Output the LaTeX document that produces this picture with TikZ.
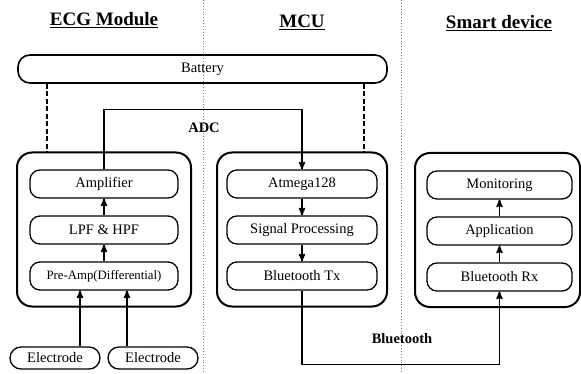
\documentclass[tikz,border=0pt]{standalone}
\usepackage{fontspec}
\setmainfont{Liberation Serif}
\usetikzlibrary{arrows,positioning}

\begin{document}
\begin{tikzpicture}[x=1pt,y=-1pt,>=stealth',node distance=46pt,on grid,
  every node/.style={font=\fontsize{14.5}{16}\selectfont},
  head/.style={font=\fontsize{19}{22}\selectfont\bfseries},
  tag/.style={font=\fontsize{14.5}{16}\selectfont\bfseries},
  block/.style={draw,line width=1.3pt,rounded corners=10pt,minimum width=148pt,minimum height=28pt,inner sep=0pt},
  unit/.style={draw,line width=2pt,rounded corners=15pt,minimum height=154pt,inner sep=0pt},
  pill/.style={draw,line width=1.3pt,rounded corners=11pt,minimum width=90pt,minimum height=22pt,inner sep=0pt},
  sig/.style={->,line width=1.6pt},
  pwr/.style={line width=1.6pt,dash pattern=on 5pt off 2.5pt},
  sep/.style={gray,line width=0.9pt,dotted}]
  \useasboundingbox (0,0) rectangle (581,374);

  \draw[sep] (203,0) -- (203,374);
  \draw[sep] (401,0) -- (401,374);

  \node[head] (ecgtitle) at (104,20) {\underline{ECG Module}};
  \node[head] (mcutitle) at (302,22) {\underline{MCU}};
  \node[head] (smarttitle) at (499,23) {\underline{Smart device}};

  \node[draw,line width=1.6pt,rounded corners=12pt,minimum width=369pt,minimum height=28pt,inner sep=0pt] (bat) at (202.5,69) {Battery};

  \node[unit,minimum width=174pt] (ecg) at (104,229.5) {};
  \node[unit,minimum width=170pt] (mcu) at (302,229.5) {};
  \node[unit,minimum width=165pt] (smart) at (497.5,230) {};

  \node[block] (amp) at (104,184) {Amplifier};
  \node[block,below=of amp] (lpf) {LPF \& HPF};
  \node[block,below=of lpf,font=\fontsize{12.8}{15}\selectfont] (pre) {Pre-Amp(Differential)};

  \node[block,minimum width=150pt] (atm) at (302,184) {Atmega128};
  \node[block,minimum width=150pt,below=of atm] (proc) {Signal Processing};
  \node[block,minimum width=150pt,below=of proc] (btx) {Bluetooth Tx};

  \node[block,minimum width=145pt] (mon) at (499.5,185) {Monitoring};
  \node[block,minimum width=145pt,below=of mon] (app) {Application};
  \node[block,minimum width=145pt,below=of app] (brx) {Bluetooth Rx};

  \node[pill] (el1) at (55,358) {Electrode};
  \node[pill] (el2) at (153,358) {Electrode};

  \coordinate (dl) at (47,0);
  \coordinate (dr) at (364,0);
  \draw[pwr] (bat.south -| dl) -- (ecg.north -| dl);
  \draw[pwr] (bat.south -| dr) -- (mcu.north -| dr);

  \draw[sig] (lpf) -- (amp);
  \draw[sig] (pre) -- (lpf);
  \draw[sig] ([xshift=25pt]el1.north) -- ([xshift=25pt]el1.north |- pre.south);
  \draw[sig] ([xshift=-26pt]el2.north) -- ([xshift=-26pt]el2.north |- pre.south);

  \draw[sig] (amp.north) -- ++(0,-60) -| (atm.north);
  \node[tag] (adc) at (204,128) {ADC};
  \draw[sig] (atm) -- (proc);
  \draw[sig] (proc) -- (btx);

  \draw[sig] (btx.south) -- ++(0,74) -| (brx.south);
  \node[tag] (bt) at (402,339) {Bluetooth};
  \draw[sig] (brx) -- (app);
  \draw[sig] (app) -- (mon);
\end{tikzpicture}
\end{document}
